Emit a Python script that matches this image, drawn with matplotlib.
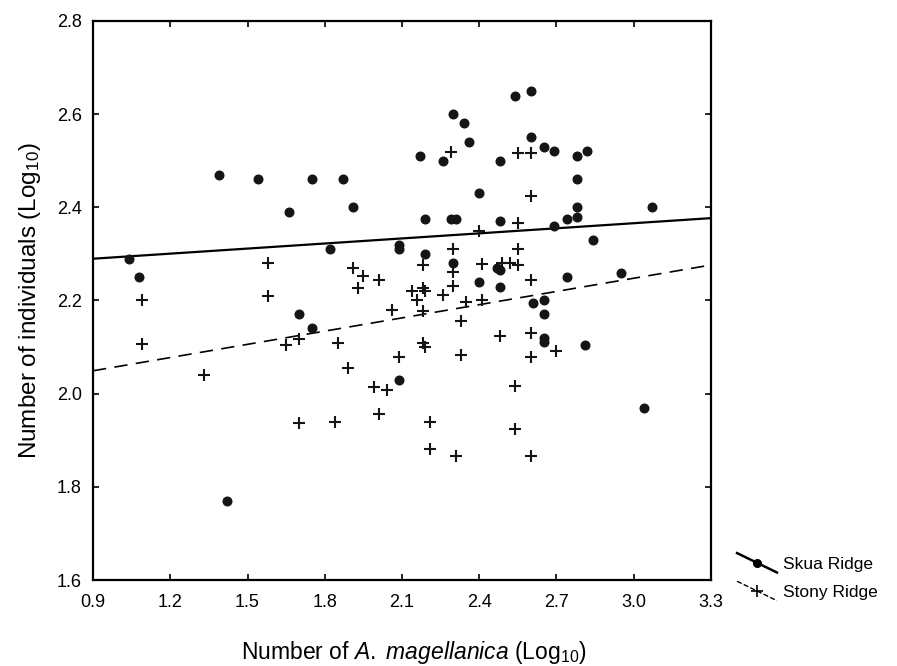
import numpy as np
import matplotlib
matplotlib.use('Agg')
import matplotlib.pyplot as plt
from matplotlib.lines import Line2D
from matplotlib.legend_handler import HandlerBase

plt.rcParams['font.family'] = ['Liberation Sans', 'DejaVu Sans']
plt.rcParams['mathtext.fontset'] = 'custom'
plt.rcParams['mathtext.rm'] = 'Liberation Sans'
plt.rcParams['mathtext.it'] = 'Liberation Sans:italic'

# Skua Ridge (dots)
skua_x = [1.04, 1.08, 1.39, 1.54, 1.66, 1.75, 1.87, 1.91, 1.70, 1.75, 1.82, 2.09, 2.09,
          2.09, 1.42, 2.17, 2.30, 2.34, 2.36, 2.26, 2.40, 2.19, 2.29, 2.31, 2.19, 2.30,
          2.54, 2.60, 2.48, 2.60, 2.65, 2.69, 2.78, 2.82, 2.78, 2.78, 2.78, 2.74, 3.07,
          2.48, 2.69, 2.84, 2.47, 2.48, 2.40, 2.48, 2.74, 2.95, 2.61, 2.65, 2.65, 2.65,
          2.65, 2.81, 3.04]
skua_y = [2.29, 2.25, 2.47, 2.46, 2.39, 2.46, 2.46, 2.40, 2.17, 2.14, 2.31, 2.32, 2.31,
          2.03, 1.77, 2.51, 2.60, 2.58, 2.54, 2.50, 2.43, 2.375, 2.375, 2.375, 2.30, 2.28,
          2.64, 2.65, 2.50, 2.55, 2.53, 2.52, 2.51, 2.52, 2.46, 2.40, 2.38, 2.375, 2.40,
          2.37, 2.36, 2.33, 2.27, 2.265, 2.24, 2.23, 2.25, 2.26, 2.195, 2.20, 2.17, 2.12,
          2.11, 2.105, 1.97]

# Stony Ridge (crosses)
stony_x = [1.09, 1.09, 1.33, 1.58, 1.58, 1.65, 1.70, 1.70, 1.84, 1.85, 1.89, 1.91, 1.95,
           2.01, 1.93, 1.99, 2.04, 2.01, 2.06, 2.09, 2.14, 2.18, 2.19, 2.16, 2.18, 2.18,
           2.18, 2.19, 2.21, 2.21, 2.26, 2.30, 2.30, 2.30, 2.29, 2.31, 2.33, 2.33, 2.35,
           2.40, 2.41, 2.41, 2.48, 2.49, 2.52, 2.55, 2.55, 2.55, 2.55, 2.54, 2.54, 2.60,
           2.60, 2.60, 2.60, 2.60, 2.60, 2.70]
stony_y = [2.20, 2.107, 2.04, 2.28, 2.21, 2.105, 2.118, 1.937, 1.94, 2.109, 2.055, 2.27,
           2.253, 2.244, 2.227, 2.015, 2.008, 1.957, 2.18, 2.079, 2.221, 2.227, 2.22, 2.201,
           2.178, 2.276, 2.109, 2.10, 1.94, 1.882, 2.212, 2.311, 2.261, 2.231, 2.519, 1.867,
           2.083, 2.156, 2.197, 2.35, 2.279, 2.201, 2.124, 2.281, 2.281, 2.311, 2.276, 2.517,
           2.366, 2.017, 1.924, 2.517, 2.424, 2.244, 2.13, 2.079, 1.867, 2.092]

# fitted lines (intercept, slope)
skua_fit = (2.257, 0.0363)
stony_fit = (1.964, 0.0946)

x_ticks = [0.9, 1.2, 1.5, 1.8, 2.1, 2.4, 2.7, 3.0, 3.3]
y_ticks = [1.6, 1.8, 2.0, 2.2, 2.4, 2.6, 2.8]


class DiagonalHandler(HandlerBase):
    # legend key drawn as a short falling diagonal with the marker in the middle
    def create_artists(self, legend, orig_handle, xdescent, ydescent,
                       width, height, fontsize, trans):
        x0, x1 = -xdescent, width - xdescent
        y0, y1 = height * 1.3 - ydescent, -height * 0.3 - ydescent
        line = Line2D([x0, x1], [y0, y1], color='k',
                      linestyle=orig_handle.get_linestyle(),
                      linewidth=orig_handle.get_linewidth())
        mark = Line2D([(x0 + x1) / 2], [(y0 + y1) / 2], linestyle='none',
                      marker=orig_handle.get_marker(), color='k',
                      markersize=orig_handle.get_markersize(),
                      markeredgewidth=orig_handle.get_markeredgewidth())
        line.set_transform(trans)
        mark.set_transform(trans)
        return [line, mark]


fig = plt.figure(figsize=(8.97, 6.66), dpi=100)
ax = fig.add_axes([0.1037, 0.1291, 0.6889, 0.8394])

xs = np.array([x_ticks[0], x_ticks[-1]])
ax.plot(xs, skua_fit[0] + skua_fit[1] * xs, color='k', lw=1.6, zorder=2)
ax.plot(xs, stony_fit[0] + stony_fit[1] * xs, color='k', lw=1.2,
        linestyle=(0, (8, 5)), zorder=2)

ax.plot(skua_x, skua_y, 'o', color='#151515', markersize=6.2, zorder=3)
ax.plot(stony_x, stony_y, '+', color='#151515', markersize=8.5, markeredgewidth=1.5, zorder=3)

ax.set_xlim(0.9, 3.3)
ax.set_ylim(1.6, 2.8)
ax.set_xticks(x_ticks)
ax.set_yticks(y_ticks)
ax.set_xticklabels([f'{t:.1f}' for t in x_ticks])
ax.set_yticklabels([f'{t:.1f}' for t in y_ticks])
ax.tick_params(direction='in', length=4, width=1.2, labelsize=13,
               top=True, right=True, pad=8)
ax.tick_params(axis='x', pad=10)
for s in ax.spines.values():
    s.set_linewidth(1.6)

ax.set_xlabel(r'Number of $\it{A.\ magellanica}$ (Log$_{10}$)', fontsize=16.5)
ax.xaxis.set_label_coords(0.52, -0.105)
ax.set_ylabel(r'Number of individuals (Log$_{10}$)', fontsize=17.5, labelpad=10)

h_skua = Line2D([], [], color='k', lw=1.8, marker='o', markersize=5.5)
h_stony = Line2D([], [], color='k', lw=1.0, linestyle=(0, (5, 3)), marker='+',
                 markersize=9, markeredgewidth=1.2)
fig.legend([h_skua, h_stony], ['Skua Ridge', 'Stony Ridge'],
           handler_map={Line2D: DiagonalHandler()},
           loc='lower left', bbox_to_anchor=(0.812, 0.086),
           frameon=False, fontsize=12.5, handlelength=2.3, handletextpad=0.35,
           labelspacing=0.75, borderpad=0)

fig.savefig('out.png', dpi=100)
